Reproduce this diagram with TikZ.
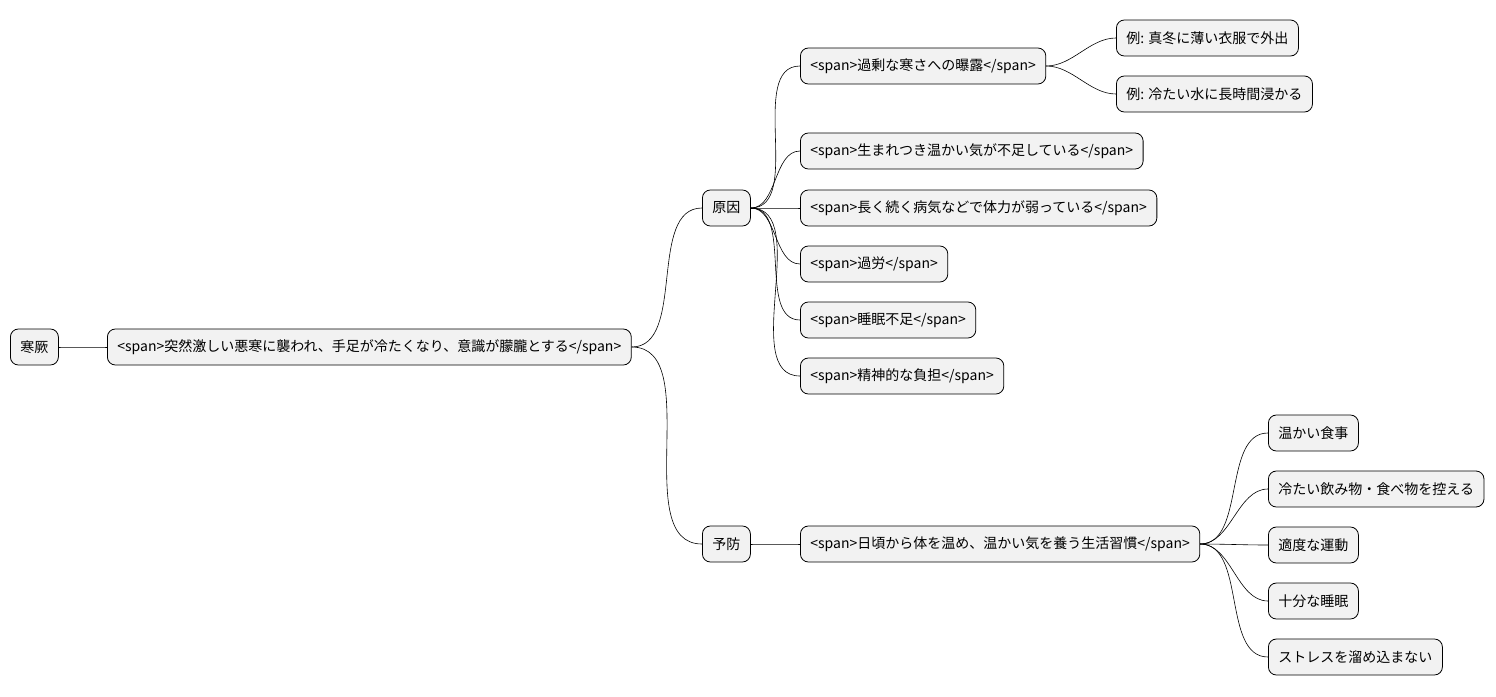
\documentclass[tikz,border=0pt]{standalone}
\usepackage{fontspec}
\setmainfont{Noto Sans CJK JP}
\tikzset{
	x=1pt, y=-1pt,
	topic/.style = {
			draw, rounded corners=8pt,
			fill = gray!10,
			line width = 0.8pt,
			minimum height = 36pt,
			inner xsep = 10pt,
			anchor = west,
			font = \fontsize{14pt}{16pt}\selectfont
		},
	branch/.style = {draw, line width=0.6pt, out=0, in=180, looseness=0.9}
}
\begin{document}
\begin{tikzpicture}
	\useasboundingbox (0,0) rectangle (1496,696);
	\node[topic] at (10,347) (root) {寒厥};
	\node[topic] at (107,347) (main) {<span>突然激しい悪寒に襲われ、手足が冷たくなり、意識が朦朧とする</span>};

	\node[topic] at (702,208) (cause) {原因};
	\node[topic] at (702,544) (prev) {予防};

	\node[topic] at (800,66) (cold) {<span>過剰な寒さへの曝露</span>};
	\node[topic] at (800,151) (innate) {<span>生まれつき温かい気が不足している</span>};
	\node[topic] at (800,208) (ill) {<span>長く続く病気などで体力が弱っている</span>};
	\node[topic] at (800,264) (tired) {<span>過労</span>};
	\node[topic] at (800,320) (sleep) {<span>睡眠不足</span>};
	\node[topic] at (800,376) (mental) {<span>精神的な負担</span>};

	\node[topic] at (1116,38) (ex1) {例: 真冬に薄い衣服で外出};
	\node[topic] at (1116,94) (ex2) {例: 冷たい水に長時間浸かる};

	\node[topic] at (800,544) (habit) {<span>日頃から体を温め、温かい気を養う生活習慣</span>};
	\node[topic] at (1268,433) (food) {温かい食事};
	\node[topic] at (1268,489) (drink) {冷たい飲み物・食べ物を控える};
	\node[topic] at (1268,545) (exercise) {適度な運動};
	\node[topic] at (1268,601) (rest) {十分な睡眠};
	\node[topic] at (1268,657) (stress) {ストレスを溜め込まない};

	\draw[branch] (root.east) to (main.west);
	\draw[branch] (main.east) to (cause.west);
	\draw[branch] (main.east) to (prev.west);
	\foreach \n in {cold,innate,ill,tired,sleep,mental}
		\draw[branch] (cause.east) to (\n.west);
	\draw[branch] (cold.east) to (ex1.west);
	\draw[branch] (cold.east) to (ex2.west);
	\draw[branch] (prev.east) to (habit.west);
	\foreach \n in {food,drink,exercise,rest,stress}
		\draw[branch] (habit.east) to (\n.west);
\end{tikzpicture}
\end{document}
